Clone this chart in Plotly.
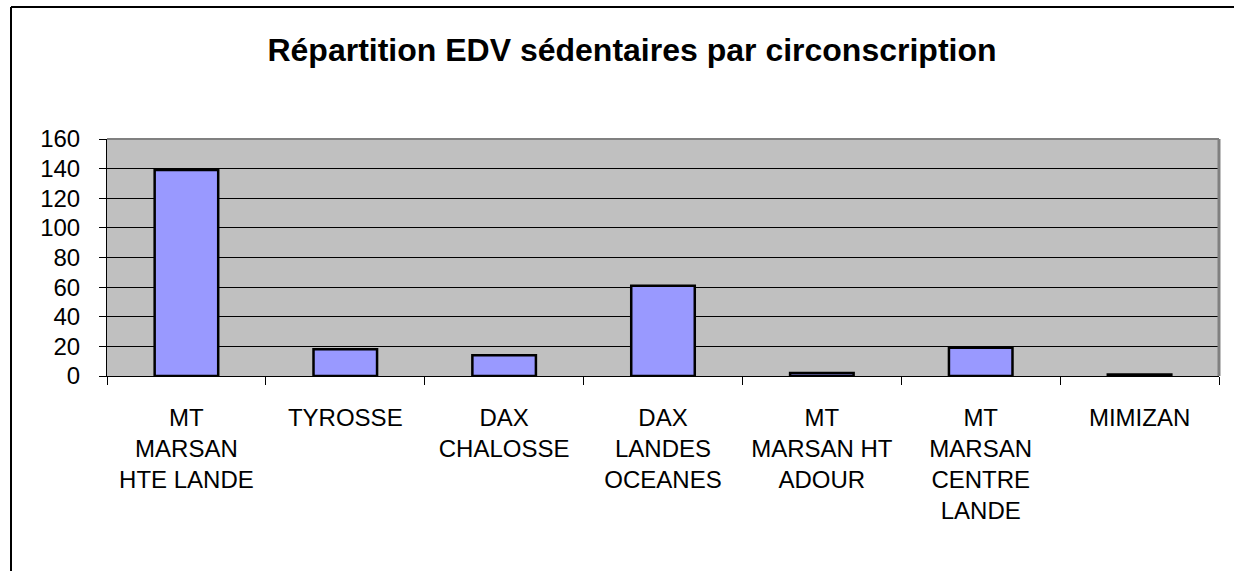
import plotly.graph_objects as go

categories = ["MT<br>MARSAN<br>HTE LANDE", "TYROSSE", "DAX<br>CHALOSSE", "DAX<br>LANDES<br>OCEANES",
              "MT<br>MARSAN HT<br>ADOUR", "MT<br>MARSAN<br>CENTRE<br>LANDE", "MIMIZAN"]
values = [139, 18, 14, 61, 2, 19, 1]
title_text = "Répartition EDV sédentaires par circonscription"

W, H = 1234, 571
L, R, T, B = 107, 15, 139, 195
pw, ph = W - L - R, H - T - B

def px_x(px):
    return (px - L) / pw

def px_y(py):
    return (H - B - py) / ph

fig = go.Figure(go.Bar(
    x=categories, y=values,
    marker=dict(color="#9999FF", line=dict(color="black", width=2.5)),
))

font = "Liberation Sans, Arial, sans-serif"
fig.update_layout(
    width=W, height=H,
    margin=dict(l=L, r=R, t=T, b=B),
    paper_bgcolor="white", plot_bgcolor="#C0C0C0",
    bargap=0.6, showlegend=False,
    title=dict(text="<b>" + title_text + "</b>", x=632 / W, xanchor="center",
               y=1 - 50 / H, yanchor="middle",
               font=dict(family=font, size=32, color="black")),
    font=dict(family=font, color="black"),
)
fig.update_yaxes(range=[0, 160], dtick=20, showgrid=True, gridcolor="black", gridwidth=1,
                 ticks="outside", ticklen=7, tickcolor="black", showline=True, linecolor="black",
                 linewidth=1, tickfont=dict(size=24, family=font, color="black"), zeroline=False,
                 ticklabelstandoff=14)
fig.update_xaxes(tickson="boundaries", ticks="outside", ticklen=8, tickcolor="black",
                 showline=True, linecolor="black", linewidth=1,
                 tickfont=dict(size=24, family=font, color="black"), ticklabelstandoff=20)

shapes = [
    dict(type="line", xref="paper", yref="paper", x0=0, x1=1, y0=1, y1=1,
         line=dict(color="#808080", width=2)),
    dict(type="line", xref="paper", yref="paper", x0=1, x1=1, y0=0, y1=1,
         line=dict(color="#808080", width=3)),
    dict(type="line", xref="paper", yref="paper", x0=px_x(11), x1=px_x(1240), y0=px_y(7), y1=px_y(7),
         line=dict(color="black", width=2)),
    dict(type="line", xref="paper", yref="paper", x0=px_x(11), x1=px_x(11), y0=px_y(7), y1=px_y(580),
         line=dict(color="black", width=2)),
]
fig.update_layout(shapes=shapes)

fig.write_html("out.html", config={"displayModeBar": False},
               post_script="document.body.style.margin='0';")
